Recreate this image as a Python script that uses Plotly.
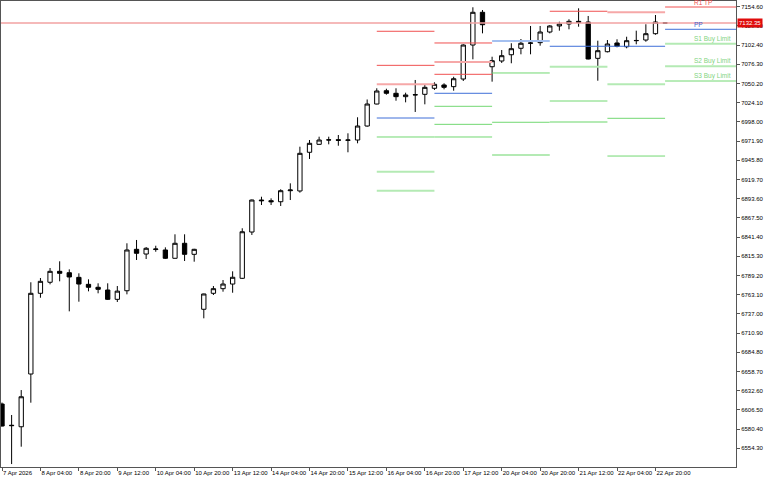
import plotly.graph_objects as go

# ---- H4 bars, bar 0 = 7 Apr 2026 12:00 ----
bar_index = list(range(70))
opens = [6614.5, 6585.0, 6583.6, 6655.3, 6765.0, 6780.0, 6794.9, 6793.0, 6786.7, 6777.2,
         6773.2, 6769.5, 6756.8, 6768.5, 6824.8, 6818.4, 6824.5, 6823.9, 6812.6, 6833.0,
         6818.0, 6743.3, 6765.0, 6771.3, 6777.6, 6785.4, 6848.3, 6891.8, 6890.9, 6889.5,
         6904.5, 6904.1, 6956.7, 6967.5, 6973.4, 6973.8, 6973.0, 6973.4, 6992.4, 7022.3,
         7040.4, 7036.9, 7032.3, 7034.6, 7035.5, 7043.7, 7048.2, 7045.9, 7056.3, 7102.5,
         7147.0, 7073.0, 7080.8, 7089.3, 7098.1, 7104.9, 7105.7, 7120.2, 7128.4, 7131.1,
         7134.7, 7133.8, 7084.4, 7093.4, 7105.3, 7100.2, 7108.4, 7109.3, 7117.9, 7132.6]
highs = [6616.5, 6599.6, 6633.5, 6780.0, 6785.8, 6799.4, 6808.5, 6797.6, 6792.2, 6784.0,
         6778.6, 6778.6, 6774.9, 6833.0, 6837.5, 6827.9, 6829.7, 6827.5, 6845.2, 6845.2,
         6825.5, 6764.5, 6774.9, 6783.1, 6794.9, 6853.4, 6892.5, 6896.3, 6894.1, 6906.4,
         6914.5, 6964.3, 6973.4, 6977.9, 6977.9, 6980.2, 6982.5, 7004.3, 7028.5, 7043.7,
         7043.1, 7043.7, 7037.7, 7055.0, 7048.2, 7051.8, 7050.5, 7059.4, 7103.5, 7153.8,
         7150.1, 7086.6, 7095.7, 7104.9, 7110.7, 7128.4, 7128.4, 7129.5, 7134.2, 7137.5,
         7152.4, 7142.0, 7108.4, 7109.3, 7110.3, 7113.8, 7122.0, 7130.7, 7143.3, 7133.0]
lows = [6584.0, 6532.9, 6556.5, 6616.3, 6759.0, 6777.2, 6781.3, 6740.5, 6753.6, 6767.7,
        6765.0, 6755.9, 6753.2, 6763.6, 6810.3, 6811.6, 6821.5, 6811.6, 6812.3, 6808.9,
        6808.0, 6731.0, 6762.7, 6767.2, 6765.8, 6784.5, 6844.3, 6885.0, 6885.0, 6883.7,
        6891.8, 6901.8, 6947.6, 6967.0, 6967.5, 6965.6, 6956.7, 6968.9, 6991.5, 7021.9,
        7035.0, 7026.8, 7024.6, 7011.5, 7021.9, 7041.4, 7042.3, 7040.4, 7053.6, 7083.1,
        7118.4, 7052.7, 7078.1, 7077.7, 7089.9, 7089.9, 7101.6, 7118.4, 7122.0, 7123.9,
        7127.4, 7083.0, 7054.0, 7092.5, 7099.4, 7098.1, 7103.5, 7107.0, 7116.5, 7132.0]
closes = [6584.6, 6585.5, 6624.4, 6765.0, 6781.3, 6794.9, 6792.2, 6787.2, 6777.6, 6773.2,
          6770.4, 6756.8, 6768.0, 6823.9, 6819.4, 6826.2, 6825.2, 6812.6, 6833.0, 6818.0,
          6824.8, 6764.1, 6771.3, 6777.6, 6786.8, 6848.7, 6891.8, 6890.9, 6889.5, 6904.5,
          6905.4, 6955.3, 6968.9, 6973.4, 6973.6, 6973.0, 6973.4, 6992.4, 7022.3, 7040.0,
          7036.9, 7032.3, 7034.6, 7035.0, 7045.0, 7049.1, 7045.0, 7056.7, 7102.5, 7147.0,
          7130.1, 7081.2, 7088.0, 7097.5, 7104.9, 7105.2, 7120.2, 7128.4, 7131.1, 7134.7,
          7133.2, 7083.5, 7094.8, 7103.9, 7100.8, 7108.4, 7108.7, 7117.9, 7133.8, 7132.35]

current_price = 7132.35

# ---- x-axis labels ----
xtick_bars = [0, 4, 8, 12, 16, 20, 24, 28, 32, 36, 40, 44, 48, 52, 56, 60, 64, 68]
xtick_text = ["7 Apr 2026", "8 Apr 04:00", "8 Apr 20:00", "9 Apr 12:00", "10 Apr 04:00",
              "10 Apr 20:00", "13 Apr 12:00", "14 Apr 04:00", "14 Apr 20:00", "15 Apr 12:00",
              "16 Apr 04:00", "16 Apr 20:00", "17 Apr 12:00", "20 Apr 04:00", "20 Apr 20:00",
              "21 Apr 12:00", "22 Apr 04:00", "22 Apr 20:00"]

# ---- y-axis ticks ----
ytick_vals = [6554.30, 6580.40, 6606.50, 6632.60, 6658.70, 6684.80, 6710.90, 6737.00,
              6763.10, 6789.20, 6815.30, 6841.40, 6867.50, 6893.60, 6919.70, 6945.80,
              6971.90, 6998.00, 7024.10, 7050.20, 7076.30, 7102.40, 7128.50, 7154.60]

# ---- daily pivot level segments (start bar of the day, price, kind) ----
seg_start = [39, 39, 39, 39, 39, 39, 39,
             45, 45, 45, 45, 45, 45, 45,
             51, 51, 51, 51,
             57, 57, 57, 57, 57,
             63, 63, 63, 63, 63,
             69, 69, 69, 69, 69]
seg_price = [7121.2, 7074.9, 7049.1, 7003.3, 6977.5, 6930.3, 6904.5,
             7105.3, 7079.4, 7062.7, 7036.9, 7019.2, 6994.7, 6977.5,
             7108.0, 7064.5, 6997.5, 6953.0,
             7148.4, 7100.8, 7073.0, 7026.4, 6997.9,
             7147.0, 7100.8, 7049.1, 7002.9, 6951.6,
             7154.2, 7123.9, 7104.3, 7073.6, 7053.6]
seg_kind = ["R", "R", "R_soft", "PP", "S", "S_soft", "S_soft",
            "R", "R_soft", "R", "PP", "S", "S", "S",
            "PP_soft", "S", "S", "S_soft",
            "R", "PP", "S_soft", "S", "S_soft",
            "R_soft", "PP", "S_soft", "S", "S",
            "R", "PP", "S_soft", "S_soft", "S"]
bars_per_day = 6

level_labels = ["R1 TP", "PP", "S1 Buy Limit", "S2 Buy Limit", "S3 Buy Limit"]
level_label_prices = [7154.2, 7123.9, 7104.3, 7073.6, 7053.6]
level_label_kinds = ["R", "PP", "S", "S", "S"]

# ---- styling ----
kind_style = {
    "R": ("#f05050", 1),
    "R_soft": ("#f6a8a8", 2),
    "PP": ("#3f6fd8", 1),
    "PP_soft": ("#a4c0f0", 2),
    "S": ("#72d872", 1),
    "S_soft": ("#b4eab4", 2),
}
label_color = {"R": "#f05050", "PP": "#3f5fd0", "S": "#7fd47f"}
FONT = "Liberation Sans"
xmin, xmax = -0.104, 76.38
ymin, ymax = 6528.9, 7162.35

fig = go.Figure()

# price line (full width)
fig.add_trace(go.Scatter(x=[xmin, xmax], y=[current_price, current_price], mode="lines",
                         line=dict(color="#f2a2a2", width=1.6), hoverinfo="skip",
                         showlegend=False))

# level segments grouped by kind
for kind, (col, w) in kind_style.items():
    xs, ys = [], []
    for s, p, k in zip(seg_start, seg_price, seg_kind):
        if k != kind:
            continue
        end = min(s + bars_per_day, xmax)
        if s == max(seg_start):
            end = xmax
        xs += [s, end, None]
        ys += [p, p, None]
    fig.add_trace(go.Scatter(x=xs, y=ys, mode="lines", line=dict(color=col, width=w),
                             hoverinfo="skip", showlegend=False))

fig.add_trace(go.Candlestick(
    x=bar_index, open=opens, high=highs, low=lows, close=closes,
    increasing=dict(line=dict(color="#000000", width=1), fillcolor="#ffffff"),
    decreasing=dict(line=dict(color="#000000", width=1), fillcolor="#000000"),
    whiskerwidth=0, showlegend=False, hoverinfo="skip"))

for txt, p, k in zip(level_labels, level_label_prices, level_label_kinds):
    fig.add_annotation(x=0.9415, xref="paper", y=p, yref="y", text=txt, showarrow=False,
                       xanchor="left", yanchor="bottom", borderpad=0,
                       font=dict(family=FONT, size=6.5, color=label_color[k]))

fig.add_annotation(x=1, xref="paper", y=current_price, yref="y",
                   text="%.2f" % current_price, showarrow=False, xanchor="left",
                   yanchor="middle", xshift=1, bgcolor="#e00c0c", borderpad=1,
                   font=dict(family=FONT, size=6, color="#ffffff"))

fig.update_layout(
    width=768, height=480,
    margin=dict(l=1, r=32, t=1, b=13, autoexpand=False),
    paper_bgcolor="#ffffff", plot_bgcolor="#ffffff",
    boxgap=0.36,
    xaxis=dict(range=[xmin, xmax], tickmode="array", tickvals=xtick_bars, ticktext=xtick_text,
               tickangle=0, automargin=False,
               ticks="outside", ticklen=3, tickcolor="#555555", showline=True,
               linecolor="#555555", linewidth=1, mirror=True, showgrid=False,
               zeroline=False, rangeslider=dict(visible=False),
               ticklabelposition="outside right",
               tickfont=dict(family=FONT, size=6, color="#000000")),
    yaxis=dict(range=[ymin, ymax], side="right", tickmode="array", tickvals=ytick_vals,
               automargin=False,
               ticktext=["%.2f" % v for v in ytick_vals], ticks="outside", ticklen=3,
               tickcolor="#555555", showline=True, linecolor="#555555", linewidth=1,
               mirror=True, showgrid=False, zeroline=False,
               tickfont=dict(family=FONT, size=6, color="#000000")),
)

fig.write_html("out.html", config={"displayModeBar": False},
               post_script="document.body.style.margin='0';document.body.style.padding='0';")
